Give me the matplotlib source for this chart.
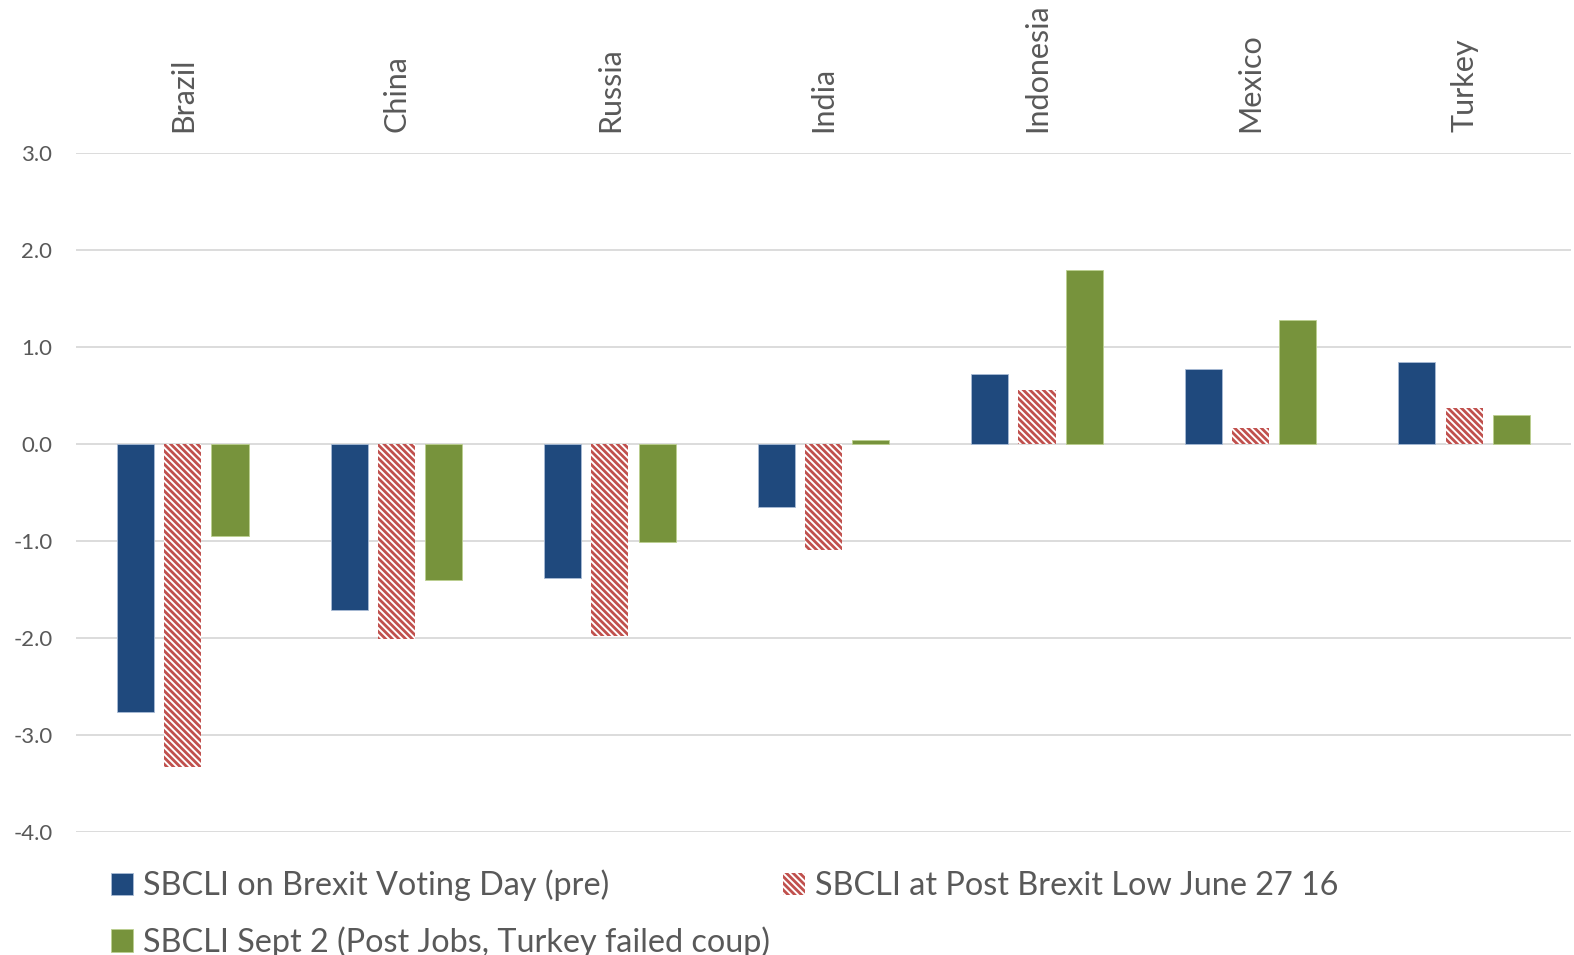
import numpy as np
import matplotlib
matplotlib.use("Agg")
import matplotlib.pyplot as plt

plt.rcParams['font.family'] = ['Lato', 'DejaVu Sans']
plt.rcParams['hatch.linewidth'] = 2.0

countries = ["Brazil", "China", "Russia", "India", "Indonesia", "Mexico", "Turkey"]
pre_vote = [-2.76, -1.71, -1.38, -0.65, 0.72, 0.77, 0.85]
post_low = [-3.33, -2.01, -1.98, -1.09, 0.56, 0.16, 0.37]
sept_2 = [-0.95, -1.40, -1.01, 0.04, 1.79, 1.28, 0.30]
series_names = ["SBCLI on Brexit Voting Day (pre)",
                "SBCLI at Post Brexit Low June 27 16",
                "SBCLI Sept 2 (Post Jobs, Turkey failed coup)"]

blue = "#1f497d"
red = "#c0504d"
green = "#77933c"
text_grey = "#595959"

fig = plt.figure(figsize=(15.74, 9.55), dpi=100)
ax = fig.add_axes([0.0483, 0.1288, 0.9497, 0.711])

x = np.arange(len(countries))
w = 0.174
step = 0.221

b1 = ax.bar(x - step, pre_vote, w, color=blue, edgecolor="#a9bcd6", linewidth=0.6, zorder=3)
b2 = ax.bar(x, post_low, w, color="white", edgecolor=red, linewidth=0, hatch="\\" * 5, zorder=3)
b3 = ax.bar(x + step, sept_2, w, color=green, edgecolor="#bcd08f", linewidth=0.6, zorder=3)

ax.set_xlim(-0.5, len(countries) - 0.5)
ax.set_ylim(-4, 3)
ax.set_yticks(np.arange(-4, 3.1, 1))
ax.set_yticklabels([f"{v:.1f}" for v in np.arange(-4, 3.1, 1)])
ax.yaxis.grid(True, color="#d9d9d9", linewidth=1.3, zorder=0)
ax.set_axisbelow(True)

ax.set_xticks(x)
ax.set_xticklabels(countries, rotation=90, va="bottom", ha="center")
ax.tick_params(axis="x", top=True, bottom=False, labeltop=True, labelbottom=False,
               length=0, pad=15, labelsize=22, labelcolor=text_grey)
ax.tick_params(axis="y", length=0, pad=17, labelsize=16, labelcolor=text_grey)
for s in ax.spines.values():
    s.set_visible(False)

# legend fills column by column, so order handles to read across rows
leg = fig.legend([b1, b3, b2], [series_names[0], series_names[2], series_names[1]],
                 loc="upper left", bbox_to_anchor=(0.062, 0.103), ncol=2, frameon=False,
                 fontsize=23.3, labelcolor=text_grey, handlelength=0.7, handleheight=0.7,
                 handletextpad=0.3, columnspacing=0.4, labelspacing=0.78, borderaxespad=0)

fig.savefig("out.png", dpi=100)
